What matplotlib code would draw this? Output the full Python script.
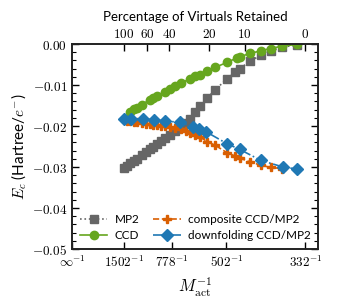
import matplotlib
matplotlib.use("Agg")
import matplotlib.pyplot as plt
import numpy as np

plt.rcParams['font.family'] = ['Lato', 'DejaVu Sans']
plt.rcParams['mathtext.fontset'] = 'cm'
plt.rcParams['font.size'] = 8.5

# ---- data (M_act = number of active orbitals) ----
mp2_M = [1502, 1410, 1329, 1258, 1192, 1107, 1050, 999, 957, 912, 870, 830, 788, 751,
         711, 680, 655, 628, 604, 574, 541, 500, 476, 462, 434, 409, 390, 368, 344]
mp2_E = [-0.0303, -0.0297, -0.0291, -0.0286, -0.0280, -0.0271, -0.0264, -0.0257, -0.0251,
         -0.0244, -0.0237, -0.0229, -0.0221, -0.0212, -0.0202, -0.0193, -0.0184, -0.0165,
         -0.0150, -0.0132, -0.0112, -0.0085, -0.0068, -0.0060, -0.0042, -0.0026, -0.0017,
         -0.0007, -0.0003]

ccd_M = [1340, 1258, 1192, 1107, 999, 957, 912, 830, 788, 751, 711, 655, 628, 604, 574,
         541, 500, 470, 462, 434, 409, 390, 368, 344]
ccd_E = [-0.0165, -0.0159, -0.0155, -0.0148, -0.0136, -0.0132, -0.0126, -0.0116, -0.0110,
         -0.0103, -0.0095, -0.0085, -0.0079, -0.0075, -0.0065, -0.0057, -0.0045, -0.0034,
         -0.0031, -0.0023, -0.0016, -0.0011, -0.0005, -0.0001]

comp_M = [1502, 1410, 1329, 1258, 1192, 1107, 1050, 999, 957, 912, 870, 830, 788, 751,
          711, 680, 655, 628, 604, 574, 541, 500, 476, 462, 434, 409, 390, 368]
comp_E = [-0.0184, -0.0188, -0.0189, -0.0190, -0.0191, -0.0193, -0.0194, -0.0196, -0.0197,
          -0.0198, -0.0199, -0.0201, -0.0203, -0.0205, -0.0208, -0.0211, -0.0217, -0.0222,
          -0.0227, -0.0238, -0.0247, -0.0265, -0.0273, -0.0278, -0.0288, -0.0296, -0.0301,
          -0.0304]

down_M = [1502, 1307, 1098, 950, 830, 715, 642, 612, 578, 500, 462, 410, 367, 344]
down_E = [-0.0183, -0.0183, -0.0183, -0.01845, -0.0188, -0.0191, -0.0202, -0.0207, -0.0214,
          -0.0243, -0.0257, -0.0284, -0.0300, -0.0305]

bottom_tick_M = [1502, 778, 502, 332]
top_percent = [100, 60, 40, 20, 10, 0]
n_occ = 332
n_virt = 1170

col_mp2 = '#666666'
col_ccd = '#66a61e'
col_comp = '#d95f02'
col_down = '#1f78b4'

fig = plt.figure(figsize=(3.37, 3.0), dpi=100)
ax = fig.add_axes([72.0 / 337, 1 - 249 / 300, (318.3 - 72.0) / 337, (249 - 44) / 300])

inv = lambda m: 1.0 / np.asarray(m, dtype=float)

ax.plot(inv(mp2_M), mp2_E, ls=':', marker='s', color=col_mp2, ms=5.8, lw=1.2, label='MP2')
ax.plot(inv(ccd_M), ccd_E, ls='-', marker='o', color=col_ccd, ms=6, lw=1.2, label='CCD')
ax.plot(inv(comp_M), comp_E, ls='--', marker='P', color=col_comp, ms=6.3, lw=1.2,
        label='composite CCD/MP2')
ax.plot(inv(down_M), down_E, ls='-.', marker='D', color=col_down, ms=6, lw=1.2,
        label='downfolding CCD/MP2')

ax.set_xlim(0, 3.18e-3)
ax.set_ylim(-0.05, 0.0)

xt = [0.0] + list(inv(bottom_tick_M))
ax.set_xticks(xt)
ax.set_xticklabels([r'$\infty^{-1}$'] + [r'$%d^{-1}$' % m for m in bottom_tick_M])
yt = np.arange(-0.05, 0.001, 0.01)
ax.set_yticks(yt)
ax.set_yticklabels([r'$%.2f$' % v if abs(v) > 1e-9 else r'$0.00$' for v in yt])
ax.set_yticks(np.arange(-0.05, 0.0001, 0.002), minor=True)
ax.tick_params(axis='both', which='major', direction='in', length=5, width=1, labelsize=9.5)
ax.tick_params(axis='y', which='both', right=True)
ax.tick_params(axis='y', which='minor', direction='in', length=3, width=0.8)
ax.tick_params(axis='x', which='both', top=False)
for s in ax.spines.values():
    s.set_linewidth(1.2)
    s.set_color('#222222')

ax.set_xlabel(r'$M_{\rm act}^{-1}$', fontsize=12, labelpad=5)
ax.set_ylabel(r'$E_c$ (Hartree/$e^{-}$)', fontsize=11, labelpad=2)

ax2 = ax.twiny()
ax2.set_xlim(ax.get_xlim())
ax2.set_xticks([1.0 / (n_occ + p / 100.0 * n_virt) for p in top_percent])
ax2.set_xticklabels([r'$%d$' % p for p in top_percent])
ax2.tick_params(axis='x', direction='in', length=5, width=1, labelsize=9.5, pad=3)
ax2.set_xlabel('Percentage of Virtuals Retained', fontsize=9.5, labelpad=4)
for s in ax2.spines.values():
    s.set_linewidth(1.2)
    s.set_color('#222222')

ax.legend(loc='lower left', ncol=2, frameon=False, fontsize=8.5, handlelength=2.3,
          columnspacing=1.2, borderaxespad=0.3, handletextpad=0.6, labelspacing=0.4)

fig.savefig('out.png', dpi=100)
